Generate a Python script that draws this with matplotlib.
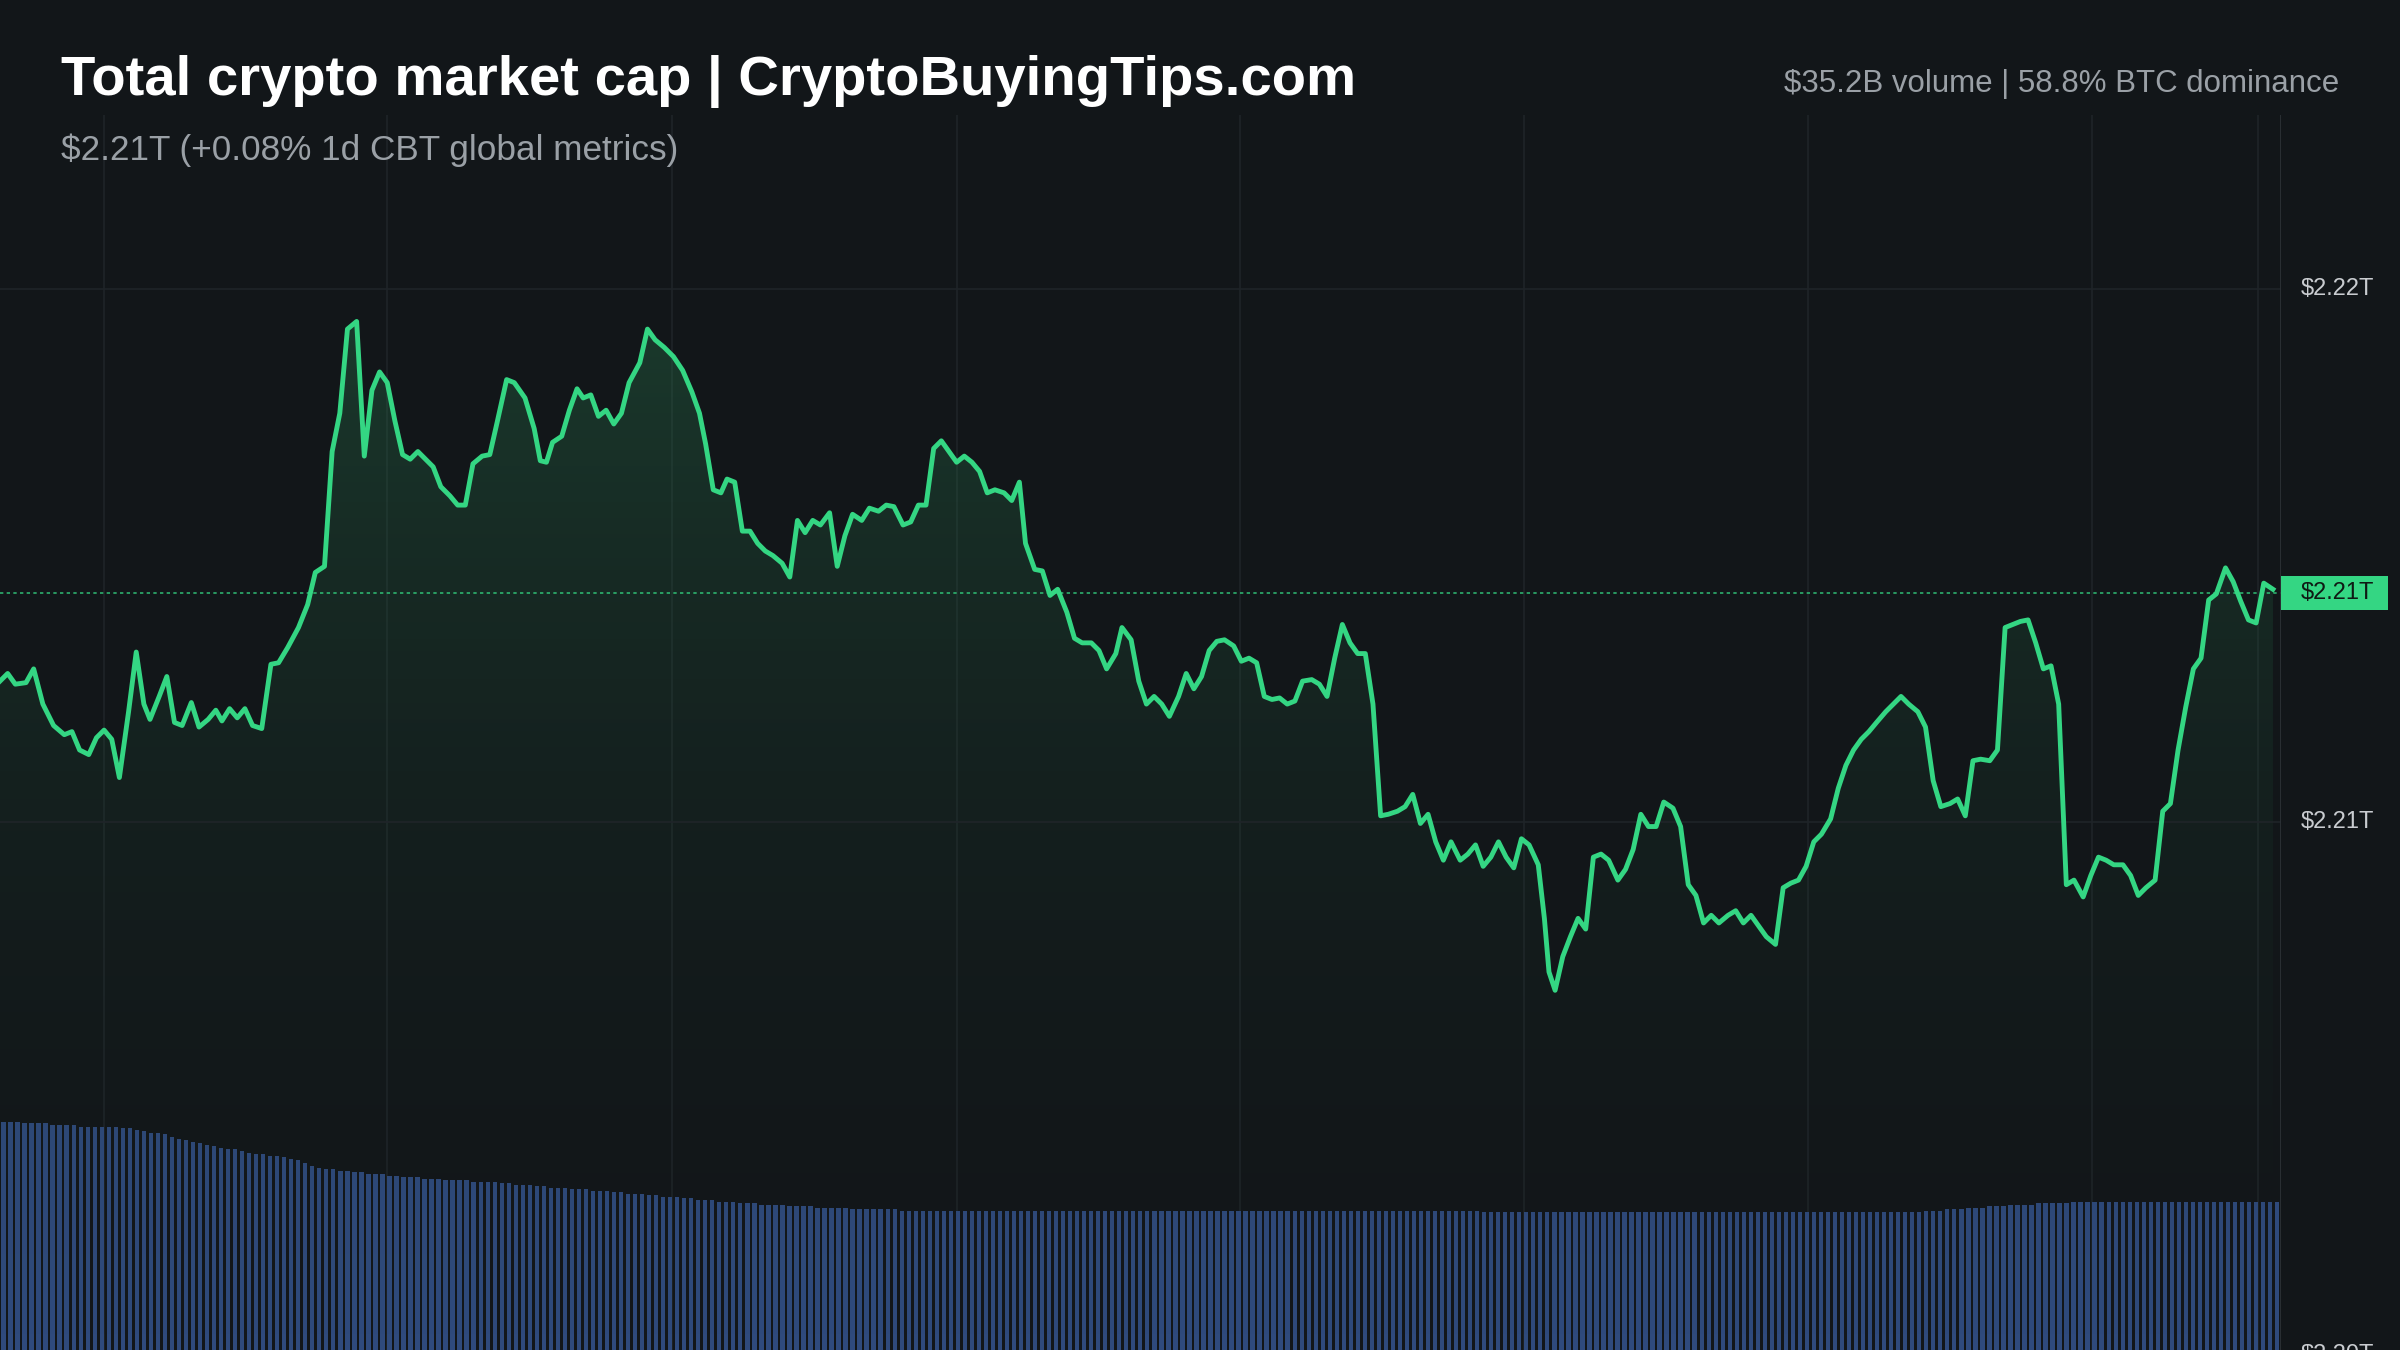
import numpy as np
import matplotlib.pyplot as plt
from matplotlib.patches import Polygon, Rectangle

# chart data (time position 0..1490, cap read on the pixel grid of the picture)
t_pos = [0, 5, 10, 17, 22, 28, 35, 42, 47, 52, 58, 63, 68, 73, 78, 84, 89, 94, 98, 104, 109, 114, 119, 125, 130,
         136, 141, 145, 150, 155, 160, 165, 171, 177, 182, 188, 195, 201, 206, 212, 217, 222, 227, 233, 238, 243,
         248, 253, 258, 263, 268, 273, 278, 283, 288, 294, 299, 304, 309, 315, 320, 325, 331, 336, 343, 349, 353,
         357, 361, 367, 372, 377, 381, 386, 391, 396, 401, 406, 411, 418, 423, 428, 434, 440, 446, 452, 457, 461,
         466, 471, 475, 480, 485, 490, 495, 500, 505, 511, 516, 521, 526, 531, 536, 542, 547, 552, 557, 563, 568,
         574, 579, 584, 590, 595, 600, 605, 610, 615, 620, 625, 630, 635, 640, 645, 650, 656, 661, 666, 670, 676,
         681, 686, 691, 697, 702, 707, 713, 718, 723, 729, 733, 739, 744, 749, 754, 759, 764, 770, 775, 780, 785,
         790, 795, 800, 806, 811, 816, 821, 826, 831, 836, 841, 846, 851, 857, 862, 867, 872, 877, 882, 887, 892,
         897, 902, 907, 913, 918, 923, 928, 933, 938, 943, 948, 954, 959, 964, 969, 974, 979, 984, 989, 994, 999,
         1005, 1009, 1012, 1016, 1021, 1026, 1031, 1036, 1041, 1046, 1051, 1057, 1062, 1067, 1072, 1077, 1082,
         1087, 1093, 1098, 1103, 1108, 1113, 1118, 1123, 1129, 1134, 1139, 1144, 1149, 1154, 1160, 1165, 1170,
         1175, 1180, 1185, 1190, 1196, 1201, 1206, 1211, 1216, 1221, 1226, 1232, 1237, 1242, 1247, 1253, 1258,
         1263, 1268, 1274, 1279, 1284, 1289, 1294, 1300, 1305, 1310, 1315, 1320, 1325, 1330, 1335, 1340, 1345,
         1350, 1355, 1361, 1366, 1371, 1376, 1381, 1387, 1392, 1397, 1402, 1408, 1413, 1418, 1423, 1428, 1433,
         1438, 1443, 1448, 1454, 1459, 1464, 1469, 1474, 1479, 1485]
cap_px = [445, 440, 447, 446, 437, 460, 474, 480, 478, 490, 493, 482, 477, 483, 508, 465, 426, 460, 470, 455, 442,
          472, 474, 459, 475, 470, 464, 471, 463, 469, 463, 474, 476, 434, 433, 423, 410, 395, 374, 370, 295, 270,
          215, 210, 298, 255, 243, 250, 275, 297, 300, 295, 300, 305, 318, 324, 330, 330, 303, 298, 297, 275, 248,
          250, 260, 280, 301, 302, 289, 285, 268, 254, 260, 258, 272, 268, 277, 270, 250, 237, 215, 222, 227, 233,
          242, 256, 270, 290, 320, 322, 313, 315, 347, 347, 355, 360, 363, 368, 377, 340, 348, 340, 343, 335, 370,
          350, 336, 340, 332, 334, 330, 331, 343, 341, 330, 330, 293, 288, 295, 302, 298, 302, 308, 322, 320, 322,
          327, 315, 355, 372, 373, 389, 385, 400, 417, 420, 420, 425, 437, 427, 410, 418, 445, 460, 455, 460, 468,
          455, 440, 450, 442, 425, 419, 418, 422, 432, 430, 433, 455, 457, 456, 460, 458, 445, 444, 447, 455, 430,
          408, 420, 427, 427, 460, 533, 532, 530, 527, 519, 538, 532, 550, 562, 550, 562, 558, 552, 566, 560, 550,
          560, 567, 548, 552, 565, 600, 635, 647, 625, 612, 600, 607, 560, 558, 562, 575, 568, 555, 532, 540, 540,
          524, 528, 540, 578, 585, 603, 598, 603, 598, 595, 603, 598, 605, 612, 617, 580, 577, 575, 566, 550, 545,
          535, 515, 500, 490, 483, 478, 472, 465, 460, 455, 460, 465, 475, 510, 527, 525, 522, 533, 497, 496, 497,
          490, 410, 408, 406, 405, 420, 437, 435, 460, 578, 575, 586, 572, 560, 562, 565, 565, 572, 585, 580, 575,
          530, 525, 490, 462, 437, 430, 392, 388, 371, 380, 393, 405, 407, 381, 385]
# volume bar heights (same pixel scale)
volume = [149, 149, 149, 148, 148, 148, 148, 147, 147, 147, 147, 146, 146, 146, 146, 146, 146, 145, 145, 144, 143, 142, 142, 141, 139,
          138, 137, 136, 135, 134, 133, 132, 131, 131, 130, 129, 128, 128, 127, 127, 126, 125, 124, 122, 120, 119, 118, 118, 117, 117,
          116, 116, 115, 115, 115, 114, 114, 113, 113, 113, 112, 112, 112, 111, 111, 111, 111, 110, 110, 110, 110, 109, 109, 108, 108,
          108, 107, 107, 106, 106, 106, 105, 105, 105, 104, 104, 104, 103, 103, 102, 102, 102, 101, 101, 100, 100, 100, 99, 99, 98,
          98, 98, 97, 97, 97, 96, 96, 96, 95, 95, 95, 95, 94, 94, 94, 94, 93, 93, 93, 93, 93, 92, 92, 92, 92,
          92, 92, 92, 91, 91, 91, 91, 91, 91, 91, 91, 91, 91, 91, 91, 91, 91, 91, 91, 91, 91, 91, 91, 91, 91,
          91, 91, 91, 91, 91, 91, 91, 91, 91, 91, 91, 91, 91, 91, 91, 91, 91, 91, 91, 91, 91, 91, 91, 91, 91,
          91, 91, 91, 91, 91, 91, 91, 91, 91, 91, 91, 91, 91, 91, 91, 91, 91, 91, 91, 91, 91, 91, 91, 91, 91,
          91, 91, 91, 91, 91, 91, 91, 91, 91, 91, 91, 90, 90, 90, 90, 90, 90, 90, 90, 90, 90, 90, 90, 90, 90,
          90, 90, 90, 90, 90, 90, 90, 90, 90, 90, 90, 90, 90, 90, 90, 90, 90, 90, 90, 90, 90, 90, 90, 90, 90,
          90, 90, 90, 90, 90, 90, 90, 90, 90, 90, 90, 90, 90, 90, 90, 90, 90, 90, 90, 90, 90, 90, 90, 90, 91,
          91, 91, 92, 92, 92, 93, 93, 93, 94, 94, 94, 95, 95, 95, 95, 96, 96, 96, 96, 96, 97, 97, 97, 97, 97,
          97, 97, 97, 97, 97, 97, 97, 97, 97, 97, 97, 97, 97, 97, 97, 97, 97, 97, 97, 97, 97, 97, 97, 97, 97]
last_value = 2.2143
ytick_vals = [2.22, 2.21, 2.20]
ytick_labels = ['$2.22T', '$2.21T', '$2.20T']

BG = '#121619'
GREEN = '#34d683'
BAR = '#2f4a7c'
GRID = '#1f2428'

# pixel readings -> $T  (2.22 at row 189, 0.01 per 348 rows)
cap = 2.22 - (np.array(cap_px) - 189) / 348.0 * 0.01
t = np.array(t_pos, dtype=float)

fig = plt.figure(figsize=(24, 13.5), dpi=100, facecolor=BG)
plt.rcParams['font.family'] = ['Liberation Sans', 'DejaVu Sans']
pos = [0, 0, 1490 / 1568, 1 - 75 / 882]

# volume bars in background axes
axv = fig.add_axes(pos)
axv.set_facecolor(BG)
nb = len(volume)
xb = (np.arange(nb) + 0.5) * 1490.0 / nb
axv.bar(xb, volume, width=1490.0 / nb * 0.62, color=BAR, linewidth=0)
axv.set_xlim(0, 1490)
axv.set_ylim(0, 807)
axv.axis('off')
for gx in [68, 253, 439, 625, 810, 996, 1181, 1367, 1475]:
    axv.axvline(gx, color=GRID, lw=1.2, zorder=0)

ax = fig.add_axes(pos)
ax.patch.set_alpha(0)
ymin = 2.22 - 693 / 348 * 0.01
ymax = 2.22 + 114 / 348 * 0.01
ax.set_xlim(0, 1490)
ax.set_ylim(ymin, ymax)
ax.axhline(2.22, color=GRID, lw=1.2)
ax.axhline(2.21, color=GRID, lw=1.2)

# gradient fill under the line
grad = np.linspace(0, 1, 256).reshape(-1, 1)
cm = plt.matplotlib.colors.LinearSegmentedColormap.from_list('g', [(0.07, 0.09, 0.1, 0.0), (0.18, 0.55, 0.35, 0.30)])
im = ax.imshow(grad, extent=[0, 1490, ymin, cap.max()], origin='lower', aspect='auto', cmap=cm, zorder=1)
poly = Polygon(np.column_stack([np.r_[t[0], t, t[-1]], np.r_[ymin, cap, ymin]]), closed=True,
               facecolor='none', edgecolor='none')
ax.add_patch(poly)
im.set_clip_path(poly)
ax.plot(t, cap, color=GREEN, lw=3.5, zorder=3, solid_joinstyle='round')
ax.axhline(last_value, color=GREEN, lw=1.2, ls=(0, (2, 2)), alpha=0.8, zorder=2)

for s in ax.spines.values():
    s.set_visible(False)
ax.set_xticks([])
ax.set_yticks([])
ax.axvline(1490, color='#2c3136', lw=2)

# right price labels
fig.canvas.draw()
def fy(v):
    return ax.transData.transform((0, v))[1] / fig.bbox.height
for v, lab in zip(ytick_vals, ytick_labels):
    fig.text(1503 / 1568, fy(v), lab, color='#c9ccd0', fontsize=17, va='center', ha='left')
ybox = fy(last_value)
fig.patches.append(Rectangle((1490 / 1568, ybox - 11 / 882), 70 / 1568, 22 / 882, transform=fig.transFigure,
                             facecolor=GREEN, edgecolor='none', zorder=5))
fig.text(1503 / 1568, ybox, '$2.21T', color='#0f1a14', fontsize=17, va='center', ha='left', zorder=6)

fig.text(40 / 1568, 1 - 53 / 882, 'Total crypto market cap | CryptoBuyingTips.com', color='white',
         fontsize=40.5, fontweight='bold', va='center', ha='left')
fig.text(40 / 1568, 1 - 98 / 882, '$2.21T (+0.08% 1d CBT global metrics)', color='#9aa0a6',
         fontsize=25.3, va='center', ha='left')
fig.text(1528 / 1568, 1 - 55 / 882, '$35.2B volume | 58.8% BTC dominance', color='#9aa0a6',
         fontsize=22.5, va='center', ha='right')

fig.savefig('out.png', dpi=100, facecolor=BG)
